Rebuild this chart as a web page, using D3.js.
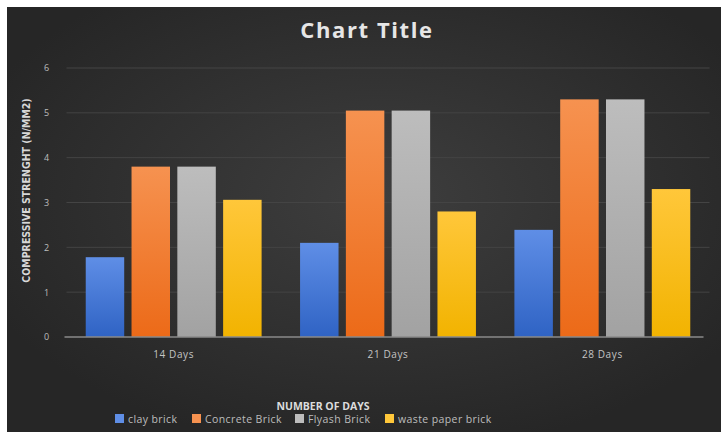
<!DOCTYPE html>
<html>
<head>
<meta charset="utf-8">
<script src="https://cdn.jsdelivr.net/npm/d3@7"></script>
<style>
  html, body { margin: 0; padding: 0; background: #ffffff; }
  svg { display: block; }
</style>
</head>
<body>
<svg id="chart" width="721" height="432"></svg>
<script>
// Compressive strength of four brick types after curing periods
const categories = ["14 Days", "21 Days", "28 Days"];
const seriesNames = ["clay brick", "Concrete Brick", "Flyash Brick", "waste paper brick"];
const clayBrick = [1.78, 2.1, 2.39];
const concreteBrick = [3.8, 5.05, 5.3];
const flyashBrick = [3.8, 5.05, 5.3];
const wastePaperBrick = [3.06, 2.8, 3.3];
const yTicks = [0, 1, 2, 3, 4, 5, 6];

const seriesValues = [clayBrick, concreteBrick, flyashBrick, wastePaperBrick];
const colors = [
  { top: "#5f8ee6", bottom: "#2f63c4" },
  { top: "#f69250", bottom: "#ec6a18" },
  { top: "#bdbdbd", bottom: "#a2a2a2" },
  { top: "#ffc73a", bottom: "#f2b300" }
];

const svg = d3.select("#chart");
const W = 721, H = 432;
const defs = svg.append("defs");

// Dark chart area background with a soft central glow
const bg = defs.append("radialGradient").attr("id", "bgGrad")
  .attr("cx", "52%").attr("cy", "45%").attr("r", "60%");
bg.append("stop").attr("offset", "0%").attr("stop-color", "#3e3e3e");
bg.append("stop").attr("offset", "100%").attr("stop-color", "#262626");

colors.forEach((c, i) => {
  const g = defs.append("linearGradient").attr("id", "barGrad" + i)
    .attr("x1", "0").attr("y1", "0").attr("x2", "0").attr("y2", "1");
  g.append("stop").attr("offset", "0%").attr("stop-color", c.top);
  g.append("stop").attr("offset", "100%").attr("stop-color", c.bottom);
});

svg.append("rect").attr("x", 7).attr("y", 7).attr("width", W - 7).attr("height", H - 7)
  .attr("fill", "url(#bgGrad)");

const margin = { left: 66.5, right: 11.5, top: 68, bottom: 95 };
const x0 = d3.scaleBand().domain(categories).range([margin.left, W - margin.right]).paddingInner(0).paddingOuter(0);
const x1 = d3.scaleBand().domain(d3.range(seriesNames.length)).range([0, x0.bandwidth()])
  .paddingInner(0.16).paddingOuter(0.42);
const y = d3.scaleLinear().domain([0, 6]).range([H - margin.bottom, margin.top]);

// Gridlines
svg.append("g").selectAll("line").data(yTicks.slice(1)).join("line")
  .attr("x1", margin.left).attr("x2", W - margin.right)
  .attr("y1", d => y(d)).attr("y2", d => y(d))
  .attr("stroke", "#444444").attr("stroke-width", 1);

// Y axis labels
const yAxis = d3.axisLeft(y).tickValues(yTicks).tickSize(0).tickPadding(0).tickFormat(d3.format("d"));
const yg = svg.append("g").attr("transform", `translate(${margin.left - 20},0)`).call(yAxis);
yg.select(".domain").remove();
yg.selectAll("text").attr("fill", "#bdbdbd").attr("font-family", "Open Sans, sans-serif")
  .attr("font-size", 9).attr("text-anchor", "middle");

// Bars
const groups = svg.append("g").selectAll("g").data(categories).join("g")
  .attr("transform", d => `translate(${x0(d)},0)`);
groups.selectAll("rect").data((d, ci) => seriesValues.map((vals, si) => ({ si, v: vals[ci] })))
  .join("rect")
  .attr("x", d => x1(d.si))
  .attr("width", x1.bandwidth())
  .attr("y", d => y(d.v))
  .attr("height", d => y(0) - y(d.v))
  .attr("fill", d => `url(#barGrad${d.si})`);

// X axis
const xAxis = d3.axisBottom(x0).tickSize(0).tickPadding(14);
const xg = svg.append("g").attr("transform", `translate(0,${y(0)})`).call(xAxis);
xg.select(".domain").attr("stroke", "#8a8a8a").attr("stroke-width", 1.5)
  .attr("d", `M${margin.left - 2},0H${W - margin.right - 6}`);
xg.selectAll("text").attr("fill", "#c4c4c4").attr("font-family", "Open Sans, sans-serif")
  .attr("font-size", 10).attr("letter-spacing", 0.6);

// Title
svg.append("text").attr("x", 367).attr("y", 38).attr("text-anchor", "middle")
  .attr("fill", "#e6e6e6").attr("font-family", "Open Sans, sans-serif").attr("font-weight", 700)
  .attr("font-size", 22).attr("letter-spacing", 1.6).text("Chart Title");

// Y axis title
svg.append("text")
  .attr("transform", `translate(30,${(y(0) + y(6)) / 2 - 12}) rotate(-90)`)
  .attr("text-anchor", "middle").attr("fill", "#d8d8d8")
  .attr("font-family", "Liberation Sans Narrow, DejaVu Sans Condensed, sans-serif")
  .attr("font-weight", 700).attr("font-size", 10.5)
  .text("COMPRESSIVE STRENGHT (N/MM2)");

// Legend
const legendX = [115, 192, 295, 385];
const lg = svg.append("g");
seriesNames.forEach((name, i) => {
  lg.append("rect").attr("x", legendX[i]).attr("y", 414).attr("width", 9).attr("height", 9)
    .attr("fill", colors[i].top);
  lg.append("text").attr("x", legendX[i] + 13).attr("y", 423)
    .attr("fill", "#bdbdbd").attr("font-family", "Open Sans, sans-serif")
    .attr("font-size", 10.5).attr("letter-spacing", 0.4).text(name);
});

// X axis title, sitting just above the legend row
svg.append("text").attr("x", 323).attr("y", 410).attr("text-anchor", "middle")
  .attr("fill", "#dcdcdc").attr("font-family", "Open Sans, sans-serif").attr("font-weight", 700)
  .attr("font-size", 10.5).text("NUMBER OF DAYS");
</script>
</body>
</html>
